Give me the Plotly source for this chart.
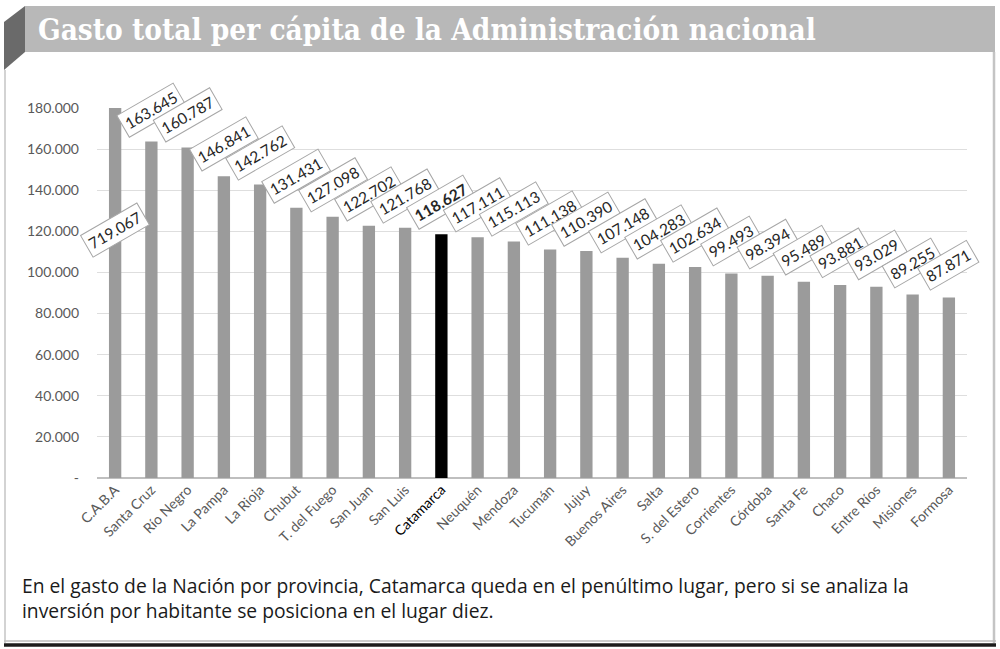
import plotly.graph_objects as go

# ---------------- data ----------------
provinces = ["C.A.B.A", "Santa Cruz", "Río Negro", "La Pampa", "La Rioja", "Chubut",
             "T. del Fuego", "San Juan", "San Luis", "Catamarca", "Neuquén", "Mendoza",
             "Tucumán", "Jujuy", "Buenos Aires", "Salta", "S. del Estero", "Corrientes",
             "Córdoba", "Santa Fe", "Chaco", "Entre Ríos", "Misiones", "Formosa"]
gasto = [719067, 163645, 160787, 146841, 142762, 131431, 127098, 122702, 121768, 118627,
         117111, 115113, 111138, 110390, 107148, 104283, 102634, 99493, 98394, 95489,
         93881, 93029, 89255, 87871]
highlight = "Catamarca"
y_ticks = [0, 20000, 40000, 60000, 80000, 100000, 120000, 140000, 160000, 180000]
y_tick_labels = ["-", "20.000", "40.000", "60.000", "80.000", "100.000", "120.000",
                 "140.000", "160.000", "180.000"]
title_text = "Gasto total per cápita de la Administración nacional"
caption_text = ("En el gasto de la Nación por provincia, Catamarca queda en el penúltimo lugar, pero si se analiza la<br>"
                "inversión por habitante se posiciona en el lugar diez.")

# ---------------- layout constants ----------------
W, H = 1000, 649
ML, MR, MT, MB = 97, 33, 108, 171
PW, PH = W - ML - MR, H - MT - MB
Y_MAX = y_ticks[-1]
FONT = "Lato, 'Open Sans', sans-serif"


def px(x):
    return (x - ML) / PW


def py(y):
    return (H - MB - y) / PH


def fmt(v):
    return f"{v:,}".replace(",", ".")


bar_colors = ["#000000" if p == highlight else "#9b9b9b" for p in provinces]
tick_text = [f"<span style='color:#000000'>{p}</span>" if p == highlight else p for p in provinces]

fig = go.Figure(go.Bar(x=provinces, y=gasto, marker=dict(color=bar_colors, line=dict(width=0)),
                       hoverinfo="x+y"))

annotations = []
for p, v in zip(provinces, gasto):
    label = fmt(v)
    if p == highlight:
        label = f"<b>{label}</b>"
    if v > Y_MAX:
        yy, ys = Y_MAX * 0.67, 0
    else:
        yy, ys = v, 32
    annotations.append(dict(x=p, y=yy, xref="x", yref="y", yshift=ys, text=label,
                            showarrow=False, textangle=-30,
                            font=dict(family=FONT, size=15.5, color="#262626"),
                            bgcolor="#ffffff", bordercolor="#a6a6a6", borderwidth=1,
                            borderpad=3))

annotations.append(dict(x=px(36), y=py(30), xref="paper", yref="paper", xanchor="left",
                        yanchor="middle", text=f"<b>{title_text}</b>", showarrow=False,
                        font=dict(family="'DejaVu Serif Condensed', 'DejaVu Serif', serif",
                                  size=29.5, color="#ffffff")))
annotations.append(dict(x=px(20), y=py(598), xref="paper", yref="paper", xanchor="left",
                        yanchor="middle", text=caption_text, showarrow=False, align="left",
                        font=dict(family="'Open Sans', sans-serif", size=19.3, color="#1a1a1a")))

shapes = [
    dict(type="rect", xref="paper", yref="paper", x0=px(25), x1=px(995), y0=py(6), y1=py(52),
         fillcolor="#b8b8b8", line=dict(width=0), layer="below"),
    dict(type="path", xref="paper", yref="paper",
         path=f"M {px(4)},{py(22)} L {px(25)},{py(6)} L {px(25)},{py(52)} L {px(4)},{py(70)} Z",
         fillcolor="#6a6a6a", line=dict(width=0), layer="below"),
    dict(type="line", xref="paper", yref="paper", x0=px(5), x1=px(5), y0=py(70), y1=py(643),
         line=dict(color="#c4c4c4", width=1.5)),
    dict(type="line", xref="paper", yref="paper", x0=px(994), x1=px(994), y0=py(52), y1=py(643),
         line=dict(color="#c4c4c4", width=2.5)),
    dict(type="line", xref="paper", yref="paper", x0=px(4), x1=px(996), y0=py(641), y1=py(641),
         line=dict(color="#bdbdbd", width=1.5)),
    dict(type="line", xref="paper", yref="paper", x0=px(4), x1=px(996), y0=py(645), y1=py(645),
         line=dict(color="#1c1c1c", width=3.5)),
]

fig.update_layout(
    width=W, height=H,
    margin=dict(l=ML, r=MR, t=MT, b=MB, pad=0, autoexpand=False),
    paper_bgcolor="#ffffff", plot_bgcolor="#ffffff",
    bargap=0.66, showlegend=False,
    annotations=annotations, shapes=shapes,
    font=dict(family=FONT, color="#595959"),
)
fig.update_xaxes(type="category", range=[-0.5, len(provinces) - 0.5],
                 tickvals=provinces, ticktext=tick_text, tickangle=-45, automargin=False,
                 tickfont=dict(family=FONT, size=14, color="#595959"),
                 showgrid=False, showline=False, ticks="", fixedrange=True)
fig.update_yaxes(range=[0, Y_MAX], tickvals=y_ticks, ticktext=y_tick_labels, automargin=False,
                 tickfont=dict(family=FONT, size=14, color="#595959"),
                 showgrid=True, gridcolor="#dedede", gridwidth=1,
                 zeroline=True, zerolinecolor="#bfbfbf", zerolinewidth=2,
                 showline=False, ticks="", ticklabelstandoff=17, fixedrange=True)

fig.write_html("out.html")
